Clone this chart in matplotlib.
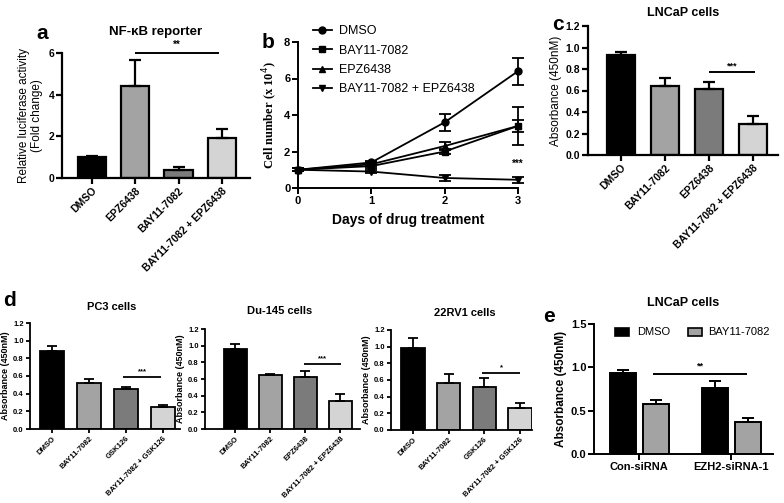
import matplotlib
matplotlib.use("Agg")
import matplotlib.pyplot as plt
from matplotlib.lines import Line2D
from matplotlib.patches import Rectangle
import numpy as np

plt.rcParams['font.family'] = ['Liberation Sans', 'DejaVu Sans']

# ---------------- data ----------------
a_cats = ["DMSO", "EPZ6438", "BAY11-7082", "BAY11-7082 + EPZ6438"]
a_vals = [1.0, 4.4, 0.4, 1.9]
a_err = [0.05, 1.25, 0.13, 0.45]

b_days = [0, 1, 2, 3]
b_names = ["DMSO", "BAY11-7082", "EPZ6438", "BAY11-7082 + EPZ6438"]
b_dmso = [1.0, 1.4, 3.6, 6.4]
b_dmso_err = [0.08, 0.1, 0.45, 0.75]
b_bay = [1.0, 1.2, 2.0, 3.4]
b_bay_err = [0.08, 0.1, 0.15, 0.35]
b_epz = [1.0, 1.3, 2.3, 3.4]
b_epz_err = [0.08, 0.12, 0.2, 1.05]
b_combo = [1.0, 0.9, 0.55, 0.45]
b_combo_err = [0.08, 0.08, 0.18, 0.15]

c_cats = ["DMSO", "BAY11-7082", "EPZ6438", "BAY11-7082 + EPZ6438"]
c_vals = [0.93, 0.645, 0.615, 0.29]
c_err = [0.025, 0.075, 0.06, 0.07]

pc3_cats = ["DMSO", "BAY11-7082", "GSK126", "BAY11-7082 + GSK126"]
pc3_vals = [0.88, 0.52, 0.45, 0.245]
pc3_err = [0.06, 0.045, 0.03, 0.03]

du_cats = ["DMSO", "BAY11-7082", "EPZ6438", "BAY11-7082 + EPZ6438"]
du_vals = [0.96, 0.65, 0.63, 0.34]
du_err = [0.065, 0.015, 0.07, 0.075]

rv_cats = ["DMSO", "BAY11-7082", "GSK126", "BAY11-7082 + GSK126"]
rv_vals = [0.99, 0.57, 0.52, 0.27]
rv_err = [0.12, 0.1, 0.1, 0.05]

e_groups = ["Con-siRNA", "EZH2-siRNA-1"]
e_series = ["DMSO", "BAY11-7082"]
e_dmso = [0.94, 0.76]
e_dmso_err = [0.035, 0.085]
e_bay = [0.58, 0.365]
e_bay_err = [0.045, 0.05]

# ---------------- helpers ----------------
W, H = 784, 503
fig = plt.figure(figsize=(W / 100, H / 100), dpi=100)


def add_ax(x0, x1, ytop, ybot):
    return fig.add_axes([x0 / W, 1 - ybot / H, (x1 - x0) / W, (ybot - ytop) / H])


def ftext(x, y, s, **kw):
    fig.text(x / W, 1 - y / H, s, **kw)


def style(ax, lw=1.4, tl=4, fs=7):
    for s in ['top', 'right']:
        ax.spines[s].set_visible(False)
    for s in ['left', 'bottom']:
        ax.spines[s].set_linewidth(lw)
    ax.tick_params(width=lw, length=tl, labelsize=fs, pad=1.5)
    for lab in ax.get_yticklabels():
        lab.set_fontweight('bold')


bar_cols = ['#000000', '#a3a3a3', '#7b7b7b', '#d4d4d4']


def bar_panel(ax, cats, vals, err, cols, width, xlim, ylim, yticks, yfmt,
              fs, xfs, lw=1.4, cap=4, tl=4):
    x = np.arange(len(cats))
    ax.bar(x, vals, width=width, color=cols, edgecolor='black', linewidth=lw, zorder=2)
    ax.errorbar(x, vals, yerr=[np.zeros(len(vals)), err], fmt='none', ecolor='black',
                elinewidth=lw, capsize=cap, capthick=lw, zorder=3)
    ax.set_xlim(*xlim)
    ax.set_ylim(*ylim)
    ax.set_yticks(yticks)
    ax.set_yticklabels([yfmt.format(t) for t in yticks])
    ax.set_xticks(x)
    ax.set_xticklabels(cats, rotation=45, ha='right', rotation_mode='anchor',
                       fontsize=xfs, fontweight='bold')
    style(ax, lw=lw, fs=fs, tl=tl)


def sig(ax, x1, x2, y, txt, fs=7, dy=0.0, lw=1.4):
    ax.plot([x1, x2], [y, y], color='black', lw=lw, clip_on=False, solid_capstyle='butt')
    ax.text((x1 + x2) / 2, y + dy, txt, ha='center', va='bottom', fontsize=fs,
            fontweight='bold', clip_on=False)


# ---------------- panel a ----------------
axa = add_ax(62, 250, 53, 178)
bar_panel(axa, a_cats, a_vals, a_err, bar_cols, 0.65, (-0.69, 3.65), (0, 6),
          [0, 2, 4, 6], '{:g}', 7.5, 7.5, lw=1.6)
axa.set_ylabel("Relative luciferase activity\n(Fold change)", fontsize=8.5, labelpad=4,
               linespacing=1.1)
sig(axa, 1, 2.94, 6.0, "**", fs=7, dy=0.15)
ftext(156, 32, "NF-\u03baB reporter", ha='center', va='center', fontsize=9.5, fontweight='bold')
ftext(42, 33, "a", ha='center', va='center', fontsize=15, fontweight='bold')

# ---------------- panel b ----------------
axb = add_ax(298, 518, 42, 188)
series = [(b_dmso, b_dmso_err, 'o'), (b_bay, b_bay_err, 's'),
          (b_epz, b_epz_err, '^'), (b_combo, b_combo_err, 'v')]
handles = []
for (vals, err, mk), name in zip(series, b_names):
    axb.errorbar(b_days, vals, yerr=err, fmt='-', marker=mk, color='black', ms=5,
                 lw=1.3, elinewidth=1.3, capsize=4, capthick=1.3, clip_on=False, zorder=3)
    handles.append(Line2D([0], [0], color='black', marker=mk, ms=5, lw=1.3, label=name))
axb.set_xlim(0, 3)
axb.set_ylim(0, 8)
axb.set_xticks(b_days)
axb.set_yticks([0, 2, 4, 6, 8])
style(axb, lw=1.4, fs=8)
for lab in axb.get_xticklabels():
    lab.set_fontweight('bold')
axb.set_ylabel("Cell number (x 10$^4$)", fontsize=9, family=['Liberation Serif', 'DejaVu Serif'],
               fontweight='bold', labelpad=3)
axb.set_xlabel("Days of drug treatment", fontsize=10, fontweight='bold', labelpad=5)
axb.text(3, 1.05, "***", ha='center', va='bottom', fontsize=7, fontweight='bold')
fig.legend(handles=handles, loc='upper left', bbox_to_anchor=(313 / W, 1 - 25 / H),
           frameon=False, fontsize=9, handlelength=1.5, handletextpad=0.6,
           labelspacing=0.6, borderpad=0, borderaxespad=0)
ftext(268, 42, "b", ha='center', va='center', fontsize=15, fontweight='bold')

# ---------------- panel c ----------------
axc = add_ax(588, 778, 26, 155)
bar_panel(axc, c_cats, c_vals, c_err, bar_cols, 0.64, (-0.75, 3.57), (0, 1.2),
          [0, 0.2, 0.4, 0.6, 0.8, 1.0, 1.2], '{:.1f}', 7.5, 7.5, lw=1.6)
axc.set_ylabel("Absorbance (450nM)", fontsize=8.5, labelpad=3)
sig(axc, 2, 3.05, 0.77, "***", fs=6.5, dy=0.02)
ftext(683, 13, "LNCaP cells", ha='center', va='center', fontsize=9, fontweight='bold')
ftext(558, 25, "c", ha='center', va='center', fontsize=15, fontweight='bold')

# ---------------- panel d ----------------
yt = [0, 0.2, 0.4, 0.6, 0.8, 1.0, 1.2]
axd1 = add_ax(30, 180, 323, 429)
bar_panel(axd1, pc3_cats, pc3_vals, pc3_err, bar_cols, 0.65, (-0.59, 3.46), (0, 1.2),
          yt, '{:.1f}', 5.5, 5.6, lw=1.3, cap=3.5, tl=3)
axd1.set_ylabel("Absorbance (450nM)", fontsize=6.5, fontweight='bold', labelpad=2)
sig(axd1, 1.92, 2.95, 0.59, "***", fs=5.5, dy=0.02, lw=1.3)
ftext(112, 307, "PC3 cells", ha='center', va='center', fontsize=8, fontweight='bold')
ftext(10, 301, "d", ha='center', va='center', fontsize=15, fontweight='bold')

axd2 = add_ax(205, 360, 329, 429)
bar_panel(axd2, du_cats, du_vals, du_err, bar_cols, 0.66, (-0.86, 3.57), (0, 1.2),
          yt, '{:.1f}', 5.5, 5.6, lw=1.3, cap=3.5, tl=3)
axd2.set_ylabel("Absorbance (450nM)", fontsize=6.5, fontweight='bold', labelpad=2)
sig(axd2, 1.97, 3.03, 0.78, "***", fs=5.5, dy=0.02, lw=1.3)
ftext(280, 311, "Du-145 cells", ha='center', va='center', fontsize=8, fontweight='bold')

axd3 = add_ax(391, 532, 330, 430)
bar_panel(axd3, rv_cats, rv_vals, rv_err, bar_cols, 0.66, (-0.62, 3.34), (0, 1.2),
          yt, '{:.1f}', 5.5, 5.6, lw=1.3, cap=3.5, tl=3)
axd3.set_ylabel("Absorbance (450nM)", fontsize=6.5, fontweight='bold', labelpad=2)
sig(axd3, 1.94, 3.0, 0.68, "*", fs=5.5, dy=0.02, lw=1.3)
ftext(465, 313, "22RV1 cells", ha='center', va='center', fontsize=8, fontweight='bold')

# ---------------- panel e ----------------
axe = add_ax(594, 773, 324, 454)
xg = np.arange(len(e_groups))
off, bw = 0.18, 0.28
e_cols = ['#000000', '#a3a3a3']
axe.bar(xg - off, e_dmso, width=bw, color=e_cols[0], edgecolor='black', lw=1.4, zorder=2)
axe.bar(xg + off, e_bay, width=bw, color=e_cols[1], edgecolor='black', lw=1.4, zorder=2)
axe.errorbar(xg - off, e_dmso, yerr=[[0, 0], e_dmso_err], fmt='none', ecolor='black',
             elinewidth=1.4, capsize=4, capthick=1.4, zorder=3)
axe.errorbar(xg + off, e_bay, yerr=[[0, 0], e_bay_err], fmt='none', ecolor='black',
             elinewidth=1.4, capsize=4, capthick=1.4, zorder=3)
axe.set_xlim(-0.49, 1.45)
axe.set_ylim(0, 1.5)
axe.set_yticks([0, 0.5, 1.0, 1.5])
axe.set_yticklabels(['0.0', '0.5', '1.0', '1.5'])
axe.set_xticks(xg)
axe.set_xticklabels(e_groups, fontsize=8, fontweight='bold')
style(axe, lw=1.4, fs=8)
axe.set_ylabel("Absorbance (450nM)", fontsize=8.5, fontweight='bold', labelpad=3)
sig(axe, 0.15, 1.17, 0.92, "**", fs=6.5, dy=0.04)
# legend placed manually (horizontal)
for (bx, tx), name, col in zip([(615, 637), (688, 708)], e_series, e_cols):
    fig.patches.append(Rectangle((bx / W, 1 - 336 / H), 14 / W, 8 / H, facecolor=col,
                                 edgecolor='black', lw=1.2, transform=fig.transFigure))
    ftext(tx, 332, name, ha='left', va='center', fontsize=8)
ftext(683, 303, "LNCaP cells", ha='center', va='center', fontsize=9, fontweight='bold')
ftext(549, 317, "e", ha='center', va='center', fontsize=15, fontweight='bold')

fig.savefig("out.png", dpi=100)
